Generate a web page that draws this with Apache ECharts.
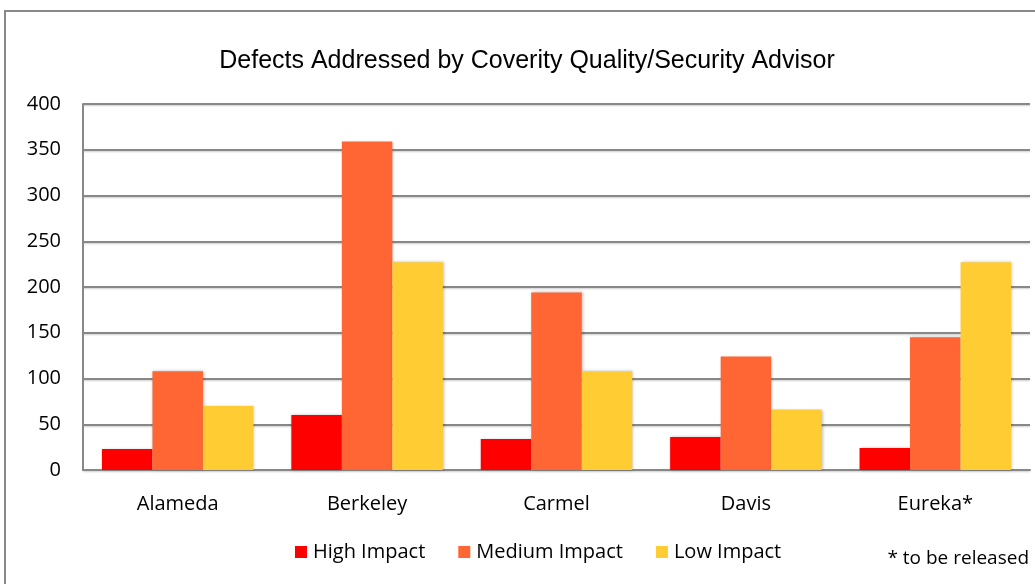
<!DOCTYPE html>
<html><head><meta charset="utf-8">
<script src="https://cdn.jsdelivr.net/npm/echarts@6/dist/echarts.min.js"></script>
<style>html,body{margin:0;padding:0;background:#fff}#c{width:1035px;height:584px}</style>
</head><body><div id="c"></div>
<script>
var categories = ['Alameda', 'Berkeley', 'Carmel', 'Davis', 'Eureka*'];
var highImpact = [23, 60, 34, 36, 24];
var mediumImpact = [108, 359, 194, 124, 145];
var lowImpact = [70, 227, 108, 66, 227];
var yTicks = [0, 50, 100, 150, 200, 250, 300, 350, 400];

var chart = echarts.init(document.getElementById('c'));
var font = '"Open Sans", Lato, sans-serif';
var fs = 20;
var barStyle = function (c) {
  return { color: c, shadowColor: 'rgba(0,0,0,0.25)', shadowBlur: 3, shadowOffsetX: 1, shadowOffsetY: 0 };
};
chart.setOption({
  animation: false,
  backgroundColor: '#fff',
  title: {
    text: 'Defects Addressed by Coverity Quality/Security Advisor',
    left: 522, top: 44, textAlign: 'center',
    textStyle: { fontFamily: '"Liberation Sans", Arial, sans-serif', fontSize: 25, fontWeight: 'normal', color: '#000' }
  },
  legend: {
    bottom: 17, left: 290, itemWidth: 12, itemHeight: 12, itemGap: 33,
    icon: 'rect',
    textStyle: { fontFamily: font, fontSize: fs, color: '#000', padding: [0, 0, 0, 1] },
    data: ['High Impact', 'Medium Impact', 'Low Impact']
  },
  grid: { left: 83, right: 5, top: 104, bottom: 114, containLabel: false },
  xAxis: {
    type: 'category', data: categories,
    axisLine: { lineStyle: { color: '#888', width: 2 } },
    axisTick: { show: false },
    axisLabel: { fontFamily: font, fontSize: fs, color: '#000', margin: 24 }
  },
  yAxis: {
    type: 'value', min: 0, max: 400, interval: 50,
    axisLine: { show: true, lineStyle: { color: '#888', width: 2 } },
    axisTick: { show: false },
    splitLine: { lineStyle: { color: '#888', width: 2, shadowColor: 'rgba(0,0,0,0.2)', shadowBlur: 2, shadowOffsetY: 1 } },
    axisLabel: { fontFamily: font, fontSize: fs, color: '#000', margin: 22,
      formatter: function (v) { return yTicks.indexOf(v) >= 0 ? String(v) : ''; } }
  },
  series: [
    { name: 'High Impact', type: 'bar', data: highImpact, barGap: '0%', barCategoryGap: '20%', itemStyle: barStyle('#ff0000') },
    { name: 'Medium Impact', type: 'bar', data: mediumImpact, itemStyle: barStyle('#ff6633') },
    { name: 'Low Impact', type: 'bar', data: lowImpact, itemStyle: barStyle('#ffcc33') }
  ],
  graphic: [
    { type: 'polyline', shape: { points: [[5, 600], [5, 11], [1040, 11]] }, style: { stroke: '#888', lineWidth: 2, fill: null } },
    { type: 'text', right: 6, top: 549, style: { text: '* to be released', fontFamily: font, fontSize: 19, fill: '#000' } }
  ]
});
</script></body></html>
